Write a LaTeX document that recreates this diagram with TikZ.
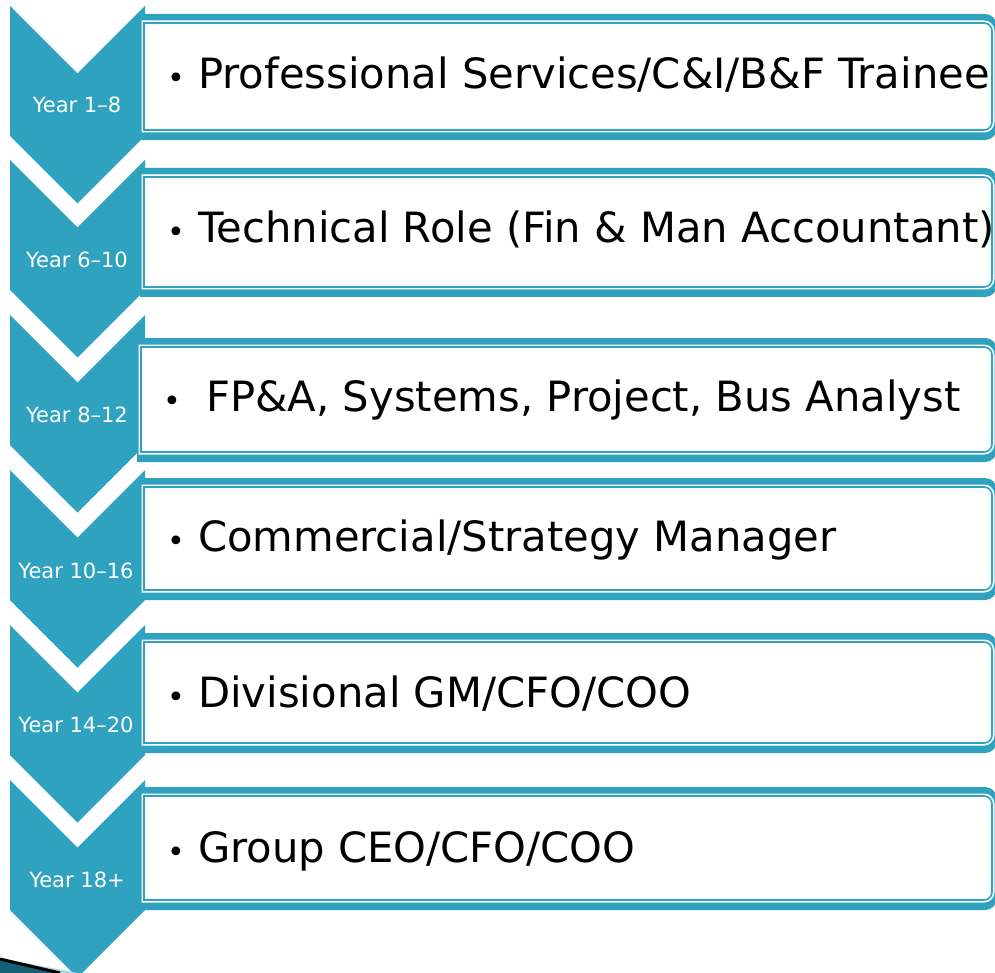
\documentclass[tikz,border=0pt]{standalone}
\usepackage{fontspec}
\setmainfont{DejaVu Sans}
\definecolor{tealA}{RGB}{46,162,190}
\definecolor{tealD}{RGB}{20,95,120}
\definecolor{tealL}{RGB}{170,215,230}
\begin{document}
\begin{tikzpicture}[x=1pt,y=1pt,
  chev/.style={fill=tealA},
  outerbox/.style={fill=tealA},
  halo/.style={draw=white,line width=5,fill=white},
  thinline/.style={draw=tealA,line width=1.6},
  role/.style={anchor=base west,inner sep=0pt,text=black,font=\fontsize{41.7}{41.7}\selectfont},
  bul/.style={anchor=base,inner sep=0pt,text=black,font=\fontsize{30}{30}\selectfont},
  yr/.style={anchor=base,inner sep=0pt,text=white,font=\fontsize{21}{21}\selectfont}]
\useasboundingbox (0,-973) rectangle (995,0);
\clip (0,-973) rectangle (995,0);
% chevrons
\foreach \T in {6,160,315,470,625,780}{
  \fill[chev] (10,-\T) -- (77.5,-\T-67.5) -- (145,-\T) -- (145,-\T-130) -- (77.5,-\T-197.5) -- (10,-\T-130) -- cycle;
}
% boxes
\foreach \l/\t/\b in {140/14/140, 140/168/297, 137/338/462, 140/478/600, 140/633/753, 140/787/910}{
  \fill[outerbox] (\l,-\t) -- (985,-\t) arc[start angle=90,end angle=0,radius=12] -- (997,-\b+12) arc[start angle=0,end angle=-90,radius=12] -- (\l,-\b) -- cycle;
  \draw[halo] (\l+4,-\t-9) -- (984,-\t-9) arc[start angle=90,end angle=0,radius=8] -- (992,-\b+18) arc[start angle=0,end angle=-90,radius=8] -- (\l+4,-\b+10) -- cycle;
  \draw[thinline] (\l+4,-\t-9) -- (984,-\t-9) arc[start angle=90,end angle=0,radius=8] -- (992,-\b+18) arc[start angle=0,end angle=-90,radius=8] -- (\l+4,-\b+10) -- cycle;
}
% corner artefact
\fill[tealD] (0,-958) -- (64,-973) -- (0,-973) -- cycle;
\fill[tealL] (10,-960) -- (78,-973) -- (62,-973) -- cycle;
\draw[black,line width=3] (0,-959) -- (60,-973);
% year labels
\node[yr] (y1) at (77,-113) {Year 1–8};
\node[yr] (y2) at (77,-268) {Year 6–10};
\node[yr] (y3) at (77,-422) {Year 8–12};
\node[yr] (y4) at (76,-578) {Year 10–16};
\node[yr] (y5) at (76,-732) {Year 14–20};
\node[yr] (y6) at (77,-887) {Year 18+};
% bullets
\node[bul] (b1) at (176,-88.5) {•};
\node[bul] (b2) at (176,-243) {•};
\node[bul] (b3) at (172,-411.5) {•};
\node[bul] (b4) at (176,-551.5) {•};
\node[bul] (b5) at (176,-707.5) {•};
\node[bul] (b6) at (176,-862.5) {•};
% roles
\node[role] (r1) at (198,-88.5) {Professional Services/C\&I/B\&F Trainee};
\node[role] (r2) at (198,-243) {Technical Role (Fin \& Man Accountant)};
\node[role] (r3) at (206,-411.5) {FP\&A, Systems, Project, Bus Analyst};
\node[role] (r4) at (198,-551.5) {Commercial/Strategy Manager};
\node[role] (r5) at (198,-707.5) {Divisional GM/CFO/COO};
\node[role] (r6) at (198,-862.5) {Group CEO/CFO/COO};
\end{tikzpicture}
\end{document}
